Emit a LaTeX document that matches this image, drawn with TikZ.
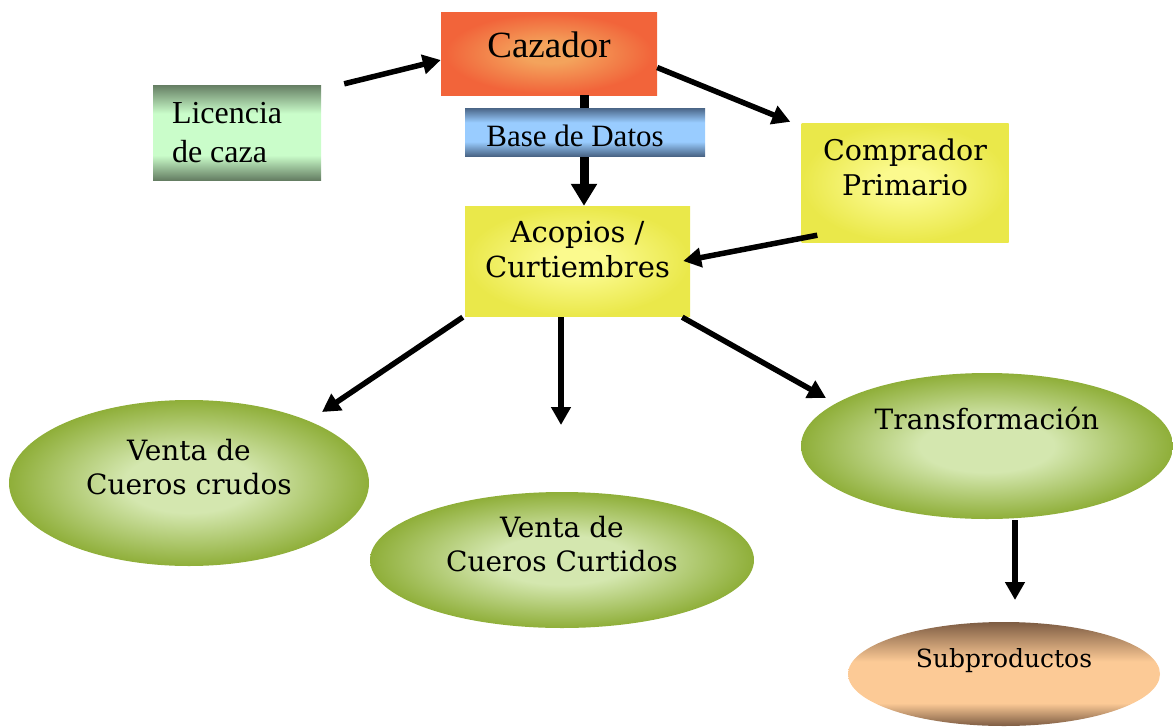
\documentclass[tikz,border=0pt]{standalone}
\usepackage{fontspec}
\setmainfont{Liberation Serif}
\newfontfamily\schoolfont{DejaVu Serif}
\usetikzlibrary{arrows.meta,shapes.geometric}

\definecolor{cazout}{HTML}{F2643A}
\definecolor{cazin}{HTML}{F3A35C}
\definecolor{licdark}{HTML}{657E63}
\definecolor{liclight}{HTML}{CAFDCA}
\definecolor{basedark}{HTML}{4A6586}
\definecolor{baselight}{HTML}{99CCFF}
\definecolor{yelout}{HTML}{EAE84A}
\definecolor{yelin}{HTML}{FBFA8E}
\definecolor{grnout}{HTML}{82A423}
\definecolor{grnin}{HTML}{D4E7AF}
\definecolor{subdark}{HTML}{7D5C43}
\definecolor{sublight}{HTML}{FCCA96}

\pgfdeclareradialshading{orangeglow}{\pgfpoint{0bp}{0bp}}{color(0bp)=(cazin); color(6bp)=(cazin); color(24bp)=(cazout); color(50bp)=(cazout)}
\pgfdeclareradialshading{yellowglow}{\pgfpoint{0bp}{0bp}}{color(0bp)=(yelin); color(6bp)=(yelin); color(25bp)=(yelout); color(50bp)=(yelout)}
\pgfdeclareradialshading{greenglow}{\pgfpoint{0bp}{0bp}}{color(0bp)=(grnin); color(9bp)=(grnin); color(28bp)=(grnout); color(50bp)=(grnout)}
\pgfdeclareverticalshading{licband}{100bp}{color(0bp)=(licdark); color(25bp)=(licdark); color(38bp)=(liclight); color(60bp)=(liclight); color(75bp)=(licdark); color(100bp)=(licdark)}
\pgfdeclareverticalshading{baseband}{100bp}{color(0bp)=(basedark); color(25bp)=(basedark); color(40bp)=(baselight); color(60bp)=(baselight); color(75bp)=(basedark); color(100bp)=(basedark)}
\pgfdeclareverticalshading{subband}{100bp}{color(0bp)=(subdark); color(25bp)=(subdark); color(36bp)=(sublight); color(56bp)=(sublight); color(75bp)=(subdark); color(100bp)=(subdark)}

\begin{document}
\begin{tikzpicture}[
x=1pt,y=-1pt,
rect/.style={
shade,
inner sep=0pt
},
oval/.style={
ellipse,
shade,
shading=greenglow,
inner sep=0pt
},
label/.style={
font=\schoolfont\fontsize{29}{35}\selectfont,
align=center,
inner sep=0pt
},
flow/.style={
-{Triangle[length=18pt,width=19pt]},
line width=5.5pt
}
]
\useasboundingbox (0,0) rectangle (1173,726);

\node[rect, shading=orangeglow, minimum width=216, minimum height=83] (cazador) at (549,53.5) {};
\node[font=\fontsize{37}{40}\selectfont, inner sep=0pt] (cazadortext) at ([yshift=9]cazador.center) {Cazador};

\node[rect, shading=licband, minimum width=168, minimum height=95] (licencia) at (237,132.5) {};
\node[font=\fontsize{32}{39}\selectfont, align=left, inner sep=0pt, anchor=west] (licenciatext) at ([xshift=19]licencia.west) {Licencia\\de caza};

\node[rect, shading=yellowglow, minimum width=225, minimum height=110] (acopios) at (577.5,261) {};
\node[label] (acopiostext) at ([yshift=11]acopios.center) {Acopios /\\Curtiembres};

\node[rect, shading=yellowglow, minimum width=207, minimum height=119] (comprador) at (905,182.5) {};
\node[label, font=\schoolfont\fontsize{28.5}{35}\selectfont] (compradortext) at ([yshift=15]comprador.center) {Comprador\\Primario};

\draw[line width=9pt, -{Triangle[length=22pt,width=25pt]}] ([xshift=35]cazador.south) -- ([xshift=6.5]acopios.north);

\node[rect, shading=baseband, minimum width=240, minimum height=48] (base) at (585,132) {};
\node[font=\fontsize{31}{34}\selectfont, inner sep=0pt] (basetext) at ([xshift=-10,yshift=-4]base.center) {Base de Datos};

\node[oval, minimum width=360, minimum height=166] (crudos) at (189,483) {};
\node[label, font=\schoolfont\fontsize{28}{34}\selectfont] (crudostext) at ([yshift=16]crudos.center) {Venta de\\Cueros crudos};

\node[oval, minimum width=384, minimum height=136] (curtidos) at (562,560) {};
\node[label, font=\schoolfont\fontsize{28}{34}\selectfont] (curtidostext) at ([yshift=16]curtidos.center) {Venta de\\Cueros Curtidos};

\node[oval, minimum width=372, minimum height=146] (transf) at (987,446) {};
\node[label, font=\schoolfont\fontsize{28}{34}\selectfont] (transftext) at ([yshift=28]transf.center) {Transformación};

\node[ellipse, shade, shading=subband, inner sep=0pt, minimum width=312, minimum height=104] (sub) at (1004,674) {};
\node[label, font=\schoolfont\fontsize{25}{30}\selectfont] (subtext) at ([yshift=13]sub.center) {Subproductos};

% connectors
\draw[flow] ([xshift=23,yshift=1]licencia.north east) -- ([yshift=-6.5]cazador.west);
\draw[flow] ([yshift=-14]cazador.east) -- ([xshift=-11,yshift=1]comprador.north west);
\draw[flow] ([xshift=16,yshift=7]comprador.south west) -- ([xshift=-7]acopios.east);
\draw[flow] ([xshift=-2,yshift=-1]acopios.south west) -- ([shift={(133,-71)}]crudos.center);
\draw[flow] ([xshift=-16.5,yshift=-1]acopios.south) -- ([shift={(-1,-135)}]curtidos.center);
\draw[flow] ([xshift=-8,yshift=-1]acopios.south east) -- ([shift={(-161,-48)}]transf.center);
\draw[flow] ([xshift=28,yshift=-1]transf.south) -- ([shift={(11,-74)}]sub.center);

\end{tikzpicture}
\end{document}
